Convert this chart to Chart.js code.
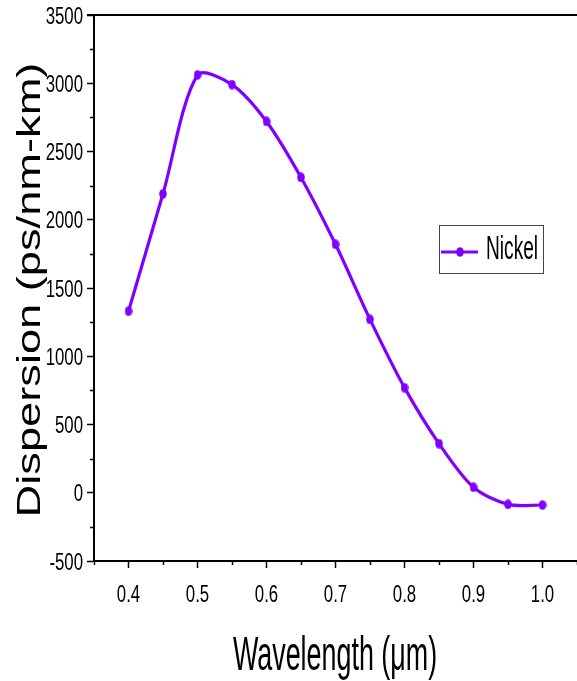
<!DOCTYPE html>
<html>
<head>
<meta charset="utf-8">
<script src="https://cdn.jsdelivr.net/npm/chart.js@4.4.1/dist/chart.umd.min.js"></script>
<style>
  html, body { margin: 0; padding: 0; background: #fff; overflow: hidden; }
  #wrap { width: 577px; height: 681px; }
</style>
</head>
<body>
<div id="wrap"><canvas id="dispChart" width="577" height="681"></canvas></div>
<script>
// values
const wavelengths = [0.4, 0.45, 0.5, 0.55, 0.6, 0.65, 0.7, 0.75, 0.8, 0.85, 0.9, 0.95, 1.0];
const dispersion = [1330, 2190, 3060, 2990, 2720, 2310, 1820, 1270, 770, 360, 40, -85, -90];
const seriesName = "Nickel";
const xTitle = "Wavelength (\u03bcm)";
const yTitle = "Dispersion (ps/nm-km)";

const purple = "#8000ff";
const sans = "'Liberation Sans', Arial, sans-serif";

function isMinorX(v) {
  return Math.abs(Math.round(v * 20)) % 2 === 1;
}
function isMinorY(v) {
  return Math.abs(Math.round(v / 250)) % 2 === 1;
}

// slightly tall marker, like the stretched original
const dot = document.createElement("canvas");
dot.width = 8;
dot.height = 10;
(function () {
  const c = dot.getContext("2d");
  c.fillStyle = purple;
  c.beginPath();
  c.ellipse(4, 5, 3.8, 4.8, 0, 0, Math.PI * 2);
  c.fill();
})();

// condensed text helper
function squeezedText(ctx, text, x, y, size, sx, align) {
  ctx.save();
  ctx.translate(x, y);
  ctx.scale(sx, 1);
  ctx.font = size + "px " + sans;
  ctx.textAlign = align;
  ctx.textBaseline = "alphabetic";
  ctx.fillText(text, 0, 0);
  ctx.restore();
}

// tick labels, minor ticks, top frame line, titles and the legend box
const decorPlugin = {
  id: "decor",
  afterDraw(chart) {
    const ctx = chart.ctx;
    const area = chart.chartArea;
    const xs = chart.scales.x;
    const ys = chart.scales.y;

    ctx.save();
    ctx.strokeStyle = "#000";
    ctx.fillStyle = "#000";
    ctx.lineWidth = 1.5;
    xs.ticks.forEach(t => {
      const px = xs.getPixelForValue(t.value);
      if (isMinorX(t.value)) {
        const p = Math.round(px) + 0.5;
        ctx.beginPath();
        ctx.moveTo(p, area.bottom);
        ctx.lineTo(p, area.bottom + 4);
        ctx.stroke();
      } else {
        squeezedText(ctx, t.value.toFixed(1), px, 602, 24, 0.7, "center");
      }
    });
    ys.ticks.forEach(t => {
      const py = ys.getPixelForValue(t.value);
      if (isMinorY(t.value)) {
        const p = Math.round(py) + 0.5;
        ctx.beginPath();
        ctx.moveTo(area.left, p);
        ctx.lineTo(area.left - 4, p);
        ctx.stroke();
      } else {
        squeezedText(ctx, String(Math.round(t.value)), 83, py + 8.5, 24, 0.7, "right");
      }
    });

    // top frame line
    ctx.lineWidth = 2;
    ctx.beginPath();
    ctx.moveTo(area.left - 7, area.top);
    ctx.lineTo(chart.width, area.top);
    ctx.stroke();

    // x title
    squeezedText(ctx, xTitle, 335, 670, 48, 0.56, "center");

    // y title
    ctx.save();
    ctx.translate(40, 290);
    ctx.rotate(-Math.PI / 2);
    ctx.scale(1.33, 1);
    ctx.font = "34px " + sans;
    ctx.textAlign = "center";
    ctx.textBaseline = "alphabetic";
    ctx.fillText(yTitle, 0, 0);
    ctx.restore();

    // legend
    const ds = chart.data.datasets[0];
    ctx.lineWidth = 1;
    ctx.strokeStyle = "#444";
    ctx.strokeRect(439.5, 225.5, 104, 48);
    ctx.strokeStyle = ds.borderColor;
    ctx.lineWidth = 3;
    ctx.beginPath();
    ctx.moveTo(441, 252);
    ctx.lineTo(478, 252);
    ctx.stroke();
    ctx.drawImage(dot, 456, 247);
    ctx.fillStyle = "#000";
    squeezedText(ctx, ds.label, 486, 259, 33, 0.58, "left");
    ctx.restore();
  }
};

const dispCtx = document.getElementById("dispChart").getContext("2d");

const dispChart = new Chart(dispCtx, {
  type: "line",
  data: {
    labels: wavelengths,
    datasets: [{
      label: seriesName,
      data: wavelengths.map((w, i) => ({ x: w, y: dispersion[i] })),
      borderColor: purple,
      backgroundColor: purple,
      borderWidth: 3.2,
      pointStyle: dot,
      pointRadius: 4,
      pointHoverRadius: 4,
      tension: 0.3,
      fill: false
    }]
  },
  options: {
    responsive: false,
    animation: false,
    layout: {
      autoPadding: false,
      padding: { top: 15, right: 0, left: 0, bottom: 0 }
    },
    plugins: {
      legend: { display: false },
      tooltip: { enabled: false }
    },
    scales: {
      x: {
        type: "linear",
        min: 0.35,
        max: 1.05,
        afterFit: scale => {
          scale.height = 120;
          scale.paddingLeft = 0;
          scale.paddingRight = 0;
        },
        border: { display: true, color: "#000", width: 2 },
        grid: {
          drawOnChartArea: false,
          drawTicks: true,
          tickLength: 7,
          tickWidth: 1.5,
          tickColor: c => (c.tick && !isMinorX(c.tick.value)) ? "#000" : "rgba(0,0,0,0)"
        },
        ticks: {
          stepSize: 0.05,
          autoSkip: false,
          maxRotation: 0,
          color: "rgba(0,0,0,0)",
          callback: () => ""
        }
      },
      y: {
        min: -500,
        max: 3500,
        afterFit: scale => { scale.width = 94; },
        border: { display: true, color: "#000", width: 2 },
        grid: {
          drawOnChartArea: false,
          drawTicks: true,
          tickLength: 7,
          tickWidth: 1.5,
          tickColor: c => (c.tick && !isMinorY(c.tick.value)) ? "#000" : "rgba(0,0,0,0)"
        },
        ticks: {
          stepSize: 250,
          autoSkip: false,
          color: "rgba(0,0,0,0)",
          callback: () => ""
        }
      }
    }
  },
  plugins: [decorPlugin]
});
</script>
</body>
</html>
